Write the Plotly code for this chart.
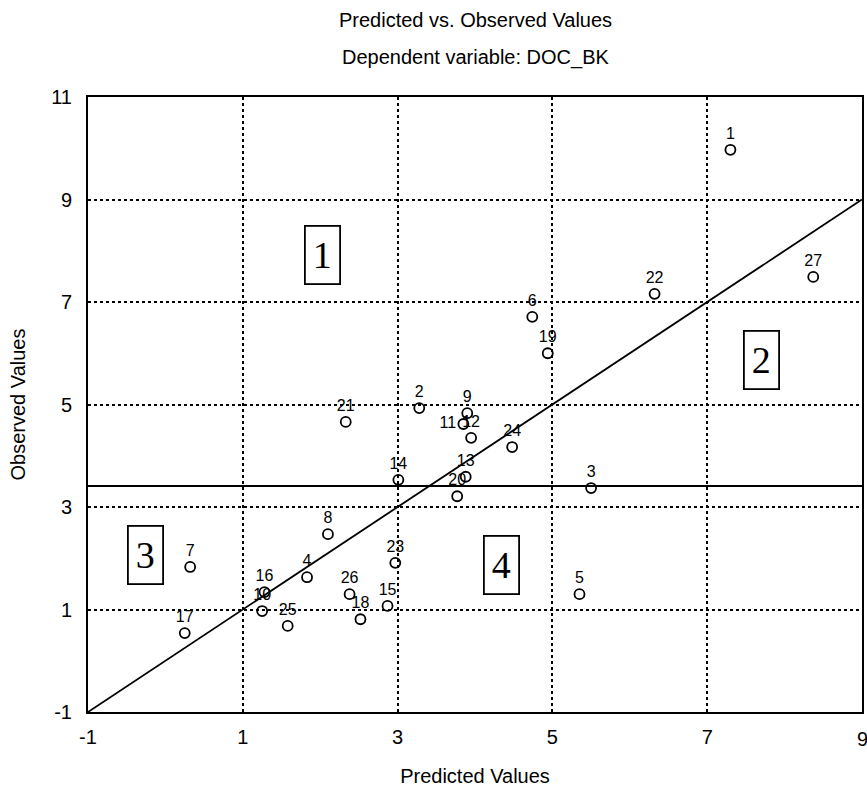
import plotly.graph_objects as go

# Case numbers with predicted and observed DOC_BK values
case_ids = [str(i) for i in range(1, 28)]
predicted = [7.30, 3.28, 5.50, 1.83, 5.35, 4.74, 0.32, 2.10, 3.90, 1.25,
             3.85, 3.95, 3.88, 3.01, 2.87, 1.28, 0.25, 2.52, 4.94, 3.77,
             2.33, 6.32, 2.97, 4.48, 1.58, 2.38, 8.37]
observed = [9.97, 4.93, 3.37, 1.63, 1.30, 6.71, 1.83, 2.47, 4.83, 0.97,
            4.62, 4.35, 3.59, 3.53, 1.07, 1.34, 0.54, 0.81, 6.00, 3.21,
            4.66, 7.16, 1.91, 4.17, 0.68, 1.30, 7.49]

# Label placement per case (crowded cluster near x≈3.9 needs a nudge)
label_pos = ["top center"] * len(case_ids)
label_pos[10] = "middle left"

# Reference lines: identity (predicted = observed) and mean observed level
identity_x = [-1, 9]
identity_y = [-1, 9]
mean_observed = 3.41

# Quadrant markers
quadrant_labels = ["1", "2", "3", "4"]
quadrant_x = [2.03, 7.70, -0.26, 4.34]
quadrant_y = [7.92, 5.87, 2.06, 1.87]

x_ticks = [-1, 1, 3, 5, 7, 9]
y_ticks = [-1, 1, 3, 5, 7, 9, 11]

sans = "Liberation Sans, Arial, sans-serif"
serif = "Liberation Serif, DejaVu Serif, serif"

fig = go.Figure()

fig.add_trace(go.Scatter(
    x=identity_x, y=identity_y, mode="lines",
    line=dict(color="black", width=1.8), hoverinfo="skip", showlegend=False,
))
fig.add_trace(go.Scatter(
    x=[identity_x[0], identity_x[1]], y=[mean_observed, mean_observed], mode="lines",
    line=dict(color="black", width=1.8), hoverinfo="skip", showlegend=False,
))
fig.add_trace(go.Scatter(
    x=predicted, y=observed, mode="markers+text",
    text=case_ids, textposition=label_pos,
    textfont=dict(family=sans, size=16, color="black"),
    marker=dict(symbol="circle-open", size=10, color="black", line=dict(width=1.8)),
    showlegend=False, cliponaxis=False,
))

for lab, qx, qy in zip(quadrant_labels, quadrant_x, quadrant_y):
    fig.add_annotation(
        x=qx, y=qy, text=lab, showarrow=False,
        font=dict(family=serif, size=38, color="black"),
        bordercolor="black", borderwidth=1.8, borderpad=7,
        bgcolor="white",
    )

fig.add_annotation(
    text="Predicted vs. Observed Values", xref="paper", yref="paper",
    x=0.5, y=1.0, yshift=77, showarrow=False, xanchor="center", yanchor="middle",
    font=dict(family=sans, size=20, color="black"),
)
fig.add_annotation(
    text="Dependent variable: DOC_BK", xref="paper", yref="paper",
    x=0.5, y=1.0, yshift=40, showarrow=False, xanchor="center", yanchor="middle",
    font=dict(family=sans, size=20, color="black"),
)

# The last x tick label sits on the page edge; draw it explicitly so it is not dropped
fig.add_annotation(
    text=str(x_ticks[-1]), xref="x", yref="paper",
    x=x_ticks[-1], y=0, yshift=-27, showarrow=False,
    xanchor="center", yanchor="middle",
    font=dict(family=sans, size=20, color="black"),
)

axis_common = dict(
    showgrid=True, gridcolor="black", griddash="dot", gridwidth=1.8,
    showline=True, linecolor="black", linewidth=2, mirror=True,
    zeroline=False, ticks="", tickfont=dict(family=sans, size=20, color="black"),
)

fig.update_xaxes(
    range=[-1, 9], tickvals=x_ticks, ticktext=[str(v) for v in x_ticks],
    ticklabelstandoff=6,
    title=dict(text="Predicted Values", font=dict(family=sans, size=20, color="black"), standoff=22),
    **axis_common,
)
fig.update_yaxes(
    range=[-1, 11], tickvals=y_ticks, ticktext=[str(v) for v in y_ticks],
    ticklabelstandoff=10,
    title=dict(text="Observed Values", font=dict(family=sans, size=20, color="black"), standoff=20),
    **axis_common,
)

fig.update_layout(
    width=867, height=791,
    margin=dict(l=88, r=3, t=97, b=79),
    paper_bgcolor="white", plot_bgcolor="white",
)

fig.write_html("out.html")
